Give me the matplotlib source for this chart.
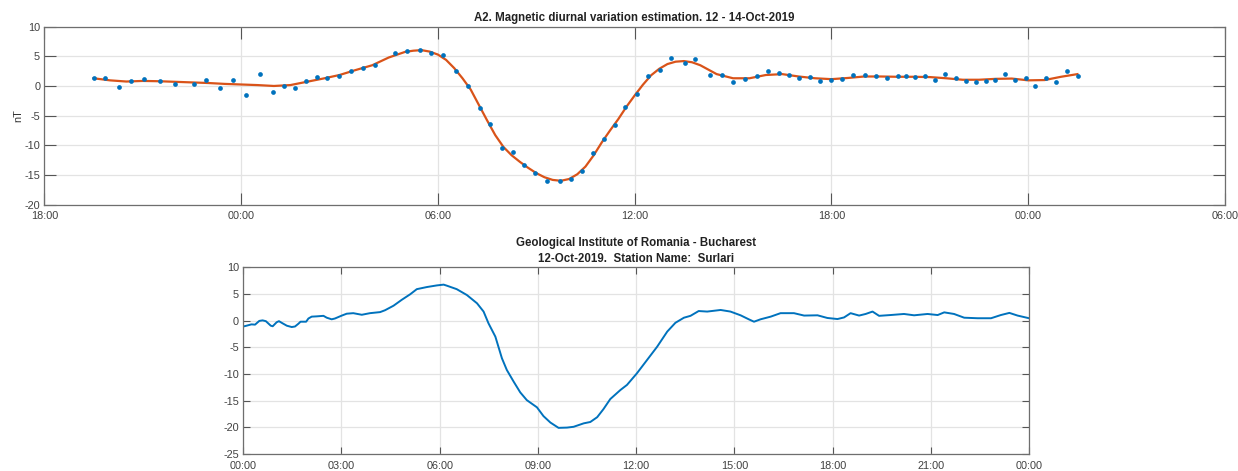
import numpy as np
import matplotlib
matplotlib.use("Agg")
import matplotlib.pyplot as plt

plt.rcParams['font.family'] = ['Liberation Sans', 'DejaVu Sans']
plt.rcParams['axes.unicode_minus'] = False

# --- top panel: measured points (hours from 00:00 on 13-Oct) ---
obs_hours = [-4.50, -4.15, -3.71, -3.36, -2.97, -2.48, -2.01, -1.44, -1.06, -0.63,
             -0.24, 0.16, 0.57, 0.96, 1.31, 1.64, 1.98, 2.32, 2.63, 2.98,
             3.34, 3.71, 4.09, 4.70, 5.07, 5.44, 5.79, 6.17, 6.55, 6.93,
             7.27, 7.59, 7.95, 8.28, 8.63, 8.97, 9.32, 9.73, 10.06, 10.40,
             10.72, 11.06, 11.39, 11.72, 12.06, 12.41, 12.76, 13.10, 13.52, 13.85,
             14.30, 14.65, 15.01, 15.36, 15.72, 16.06, 16.39, 16.70, 17.01, 17.34,
             17.66, 18.00, 18.33, 18.67, 19.01, 19.36, 19.70, 20.02, 20.27, 20.55,
             20.85, 21.16, 21.46, 21.79, 22.09, 22.41, 22.71, 23.00, 23.30, 23.60,
             23.92, 24.22, 24.55, 24.85, 25.19, 25.51]
obs_nt = [1.40, 1.35, -0.17, 0.90, 1.24, 0.79, 0.39, 0.39, 0.96, -0.34,
          1.07, -1.46, 1.97, -1.01, 0.02, -0.28, 0.84, 1.46, 1.40, 1.69,
          2.58, 2.98, 3.60, 5.56, 5.84, 6.01, 5.62, 5.17, 2.58, 0.00,
          -3.80, -6.40, -10.45, -11.18, -13.26, -14.61, -16.07, -16.01, -15.73, -14.38,
          -11.35, -8.88, -6.63, -3.60, -1.40, 1.69, 2.64, 4.66, 3.88, 4.55,
          1.85, 1.85, 0.67, 1.12, 1.74, 2.53, 2.13, 1.85, 1.35, 1.57,
          0.90, 1.01, 1.24, 1.91, 1.85, 1.74, 1.35, 1.74, 1.74, 1.46,
          1.74, 1.07, 1.97, 1.40, 0.90, 0.73, 0.90, 0.96, 1.97, 0.96,
          1.40, 0.06, 1.35, 0.67, 2.53, 1.69]

# fitted diurnal curve
fit_hours = [-4.5, -4.0, -3.5, -3.0, -2.5, -2.0, -1.5, -1.0, -0.5, 0.0,
             0.5, 1.0, 1.5, 2.0, 2.5, 3.0, 3.5, 4.0, 4.5, 5.0,
             5.25, 5.5, 5.75, 6.0, 6.25, 6.5, 6.75, 7.0, 7.25, 7.5,
             7.75, 8.0, 8.25, 8.5, 8.75, 9.0, 9.25, 9.5, 9.75, 10.0,
             10.25, 10.5, 10.75, 11.0, 11.25, 11.5, 11.75, 12.0, 12.25, 12.5,
             12.75, 13.0, 13.25, 13.5, 13.75, 14.0, 14.5, 15.0, 15.5, 16.0,
             16.5, 17.0, 17.5, 18.0, 18.5, 19.0, 19.5, 20.0, 20.5, 21.0,
             21.5, 22.0, 22.5, 23.0, 23.5, 24.0, 24.5, 25.0, 25.5]
fit_nt = [1.30, 0.95, 0.75, 0.85, 0.80, 0.70, 0.60, 0.50, 0.35, 0.25,
          0.15, 0.00, 0.15, 0.70, 1.25, 1.85, 2.70, 3.50, 4.80, 5.75,
          5.95, 6.05, 5.80, 5.30, 4.40, 3.00, 1.30, -0.60, -3.20, -5.80,
          -8.30, -10.30, -11.70, -12.80, -13.80, -14.70, -15.40, -15.85, -16.00, -15.70,
          -14.90, -13.60, -11.70, -9.50, -7.50, -5.60, -3.50, -1.60, 0.20, 1.80,
          2.90, 3.70, 4.10, 4.20, 4.00, 3.50, 2.00, 1.30, 1.30, 1.85,
          2.00, 1.60, 1.30, 1.15, 1.35, 1.60, 1.60, 1.55, 1.55, 1.50,
          1.30, 1.05, 1.05, 1.20, 1.25, 0.95, 1.00, 1.55, 2.00]

top_ticks = [-6, 0, 6, 12, 18, 24, 30]
top_labels = ['18:00', '00:00', '06:00', '12:00', '18:00', '00:00', '06:00']

# --- bottom panel: station record for 12-Oct-2019 ---
st_hours = [0.00, 0.10, 0.25, 0.36, 0.49, 0.59, 0.69, 0.84, 0.90, 1.02,
            1.09, 1.20, 1.33, 1.48, 1.58, 1.68, 1.75, 1.92, 1.99, 2.09,
            2.24, 2.45, 2.55, 2.70, 2.80, 3.01, 3.16, 3.36, 3.62, 3.87,
            4.18, 4.33, 4.59, 4.84, 5.10, 5.30, 5.61, 5.91, 6.12, 6.22,
            6.52, 6.83, 7.14, 7.34, 7.49, 7.70, 7.90, 8.05, 8.26, 8.46,
            8.66, 8.97, 9.17, 9.38, 9.63, 9.89, 10.09, 10.40, 10.60, 10.81,
            11.00, 11.21, 11.52, 11.72, 12.02, 12.33, 12.64, 12.95, 13.20, 13.46,
            13.66, 13.91, 14.17, 14.58, 14.88, 15.19, 15.44, 15.60, 15.80, 16.11,
            16.41, 16.82, 17.13, 17.54, 17.84, 18.15, 18.35, 18.55, 18.81, 19.01,
            19.22, 19.42, 19.77, 20.18, 20.49, 20.90, 21.21, 21.41, 21.71, 22.02,
            22.43, 22.84, 23.14, 23.40, 23.65, 24.00]
st_nt = [-1.10, -0.95, -0.70, -0.75, -0.05, 0.05, -0.10, -0.95, -1.05, -0.30,
         -0.10, -0.50, -0.95, -1.20, -1.10, -0.60, -0.20, -0.20, 0.40, 0.75,
         0.80, 0.90, 0.55, 0.25, 0.40, 0.95, 1.30, 1.40, 1.10, 1.40,
         1.60, 1.95, 2.80, 3.90, 4.95, 5.90, 6.30, 6.60, 6.75, 6.55,
         5.90, 4.80, 3.25, 1.70, -0.50, -3.00, -7.05, -9.25, -11.45, -13.45,
         -14.90, -16.25, -17.90, -19.10, -20.10, -20.05, -19.90, -19.25, -19.00, -18.10,
         -16.60, -14.70, -13.00, -12.05, -9.90, -7.40, -4.90, -2.05, -0.40, 0.55,
         0.90, 1.80, 1.70, 2.00, 1.70, 1.00, 0.25, -0.20, 0.25, 0.75,
         1.40, 1.40, 0.95, 1.00, 0.50, 0.30, 0.60, 1.40, 0.95, 1.25,
         1.70, 0.90, 1.05, 1.25, 1.00, 1.25, 1.05, 1.55, 1.25, 0.55,
         0.45, 0.45, 1.05, 1.45, 0.95, 0.45]

bot_ticks = [0, 3, 6, 9, 12, 15, 18, 21, 24]
bot_labels = ['00:00', '03:00', '06:00', '09:00', '12:00', '15:00', '18:00', '21:00', '00:00']

BLUE = '#0072BD'
ORANGE = '#D95319'


def style_axes(ax, ticklen):
    ax.grid(True, color='#e3e3e3', linewidth=0.9)
    ax.set_axisbelow(True)
    ax.tick_params(direction='in', length=ticklen, width=0.8, top=True, right=True,
                   labelsize=7.8, labelcolor='#404040', color='#555555', pad=3)
    ax.tick_params(axis='x', pad=5)
    for sp in ax.spines.values():
        sp.set_color('#6e6e6e')
        sp.set_linewidth(0.9)


def main():
    fig = plt.figure(figsize=(12.38, 4.71), dpi=100)

    ax1 = fig.add_axes([0.0358, 0.5658, 0.9537, 0.3775])
    ax1.plot(fit_hours, fit_nt, color=ORANGE, linewidth=1.6, zorder=2)
    ax1.plot(obs_hours, obs_nt, linestyle='none', marker='o', markersize=3.4,
             color=BLUE, markeredgewidth=0, zorder=3)
    ax1.set_xlim(-6, 30)
    ax1.set_ylim(-20, 10)
    ax1.set_xticks(top_ticks)
    ax1.set_xticklabels(top_labels)
    ax1.set_yticks(np.arange(-20, 11, 5))
    ax1.set_ylabel('nT', fontsize=7.8, color='#333333', labelpad=1)
    ax1.set_title('A2. Magnetic diurnal variation estimation. 12 - 14-Oct-2019',
                  fontsize=8.3, fontweight='bold', color='#222222', pad=4)
    style_axes(ax1, 8.5)

    ax2 = fig.add_axes([0.1965, 0.0361, 0.6347, 0.3964])
    ax2.plot(st_hours, st_nt, color=BLUE, linewidth=1.4)
    ax2.set_xlim(0, 24)
    ax2.set_ylim(-25, 10)
    ax2.set_xticks(bot_ticks)
    ax2.set_xticklabels(bot_labels)
    ax2.set_yticks(np.arange(-25, 11, 5))
    ax2.set_title('Geological Institute of Romania - Bucharest\n'
                  '12-Oct-2019.  Station Name:  Surlari',
                  fontsize=8.3, fontweight='bold', color='#222222', pad=4,
                  linespacing=1.45)
    style_axes(ax2, 5)

    fig.savefig('out.png', dpi=100)


if __name__ == "__main__":
    main()
